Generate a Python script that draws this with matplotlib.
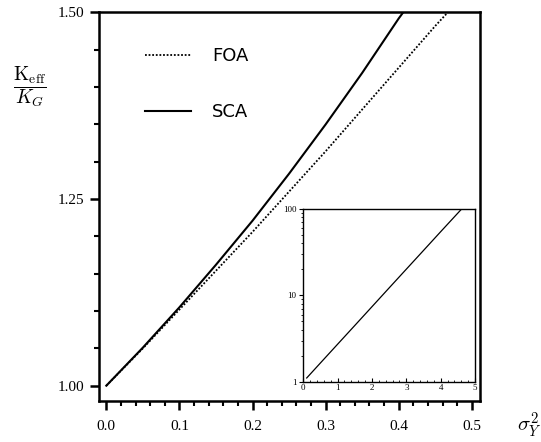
import matplotlib
matplotlib.use("Agg")
import matplotlib.pyplot as plt
from matplotlib.ticker import MultipleLocator, LogLocator, NullFormatter

plt.rcParams["mathtext.fontset"] = "cm"

# values
sigma2 = [0.0, 0.05, 0.10, 0.15, 0.20, 0.25, 0.30, 0.35, 0.40, 0.45, 0.467]
foa = [1.000, 1.050, 1.102, 1.154, 1.206, 1.260, 1.314, 1.370, 1.426, 1.482, 1.500]

sigma2_sca = [0.0, 0.05, 0.10, 0.15, 0.20, 0.25, 0.30, 0.35, 0.40, 0.406]
sca = [1.000, 1.051, 1.105, 1.162, 1.221, 1.284, 1.350, 1.419, 1.492, 1.500]

# inset: SCA on a log scale over a wider range
inset_x = [0.1, 0.5, 1.0, 1.5, 2.0, 2.5, 3.0, 3.5, 4.0, 4.61]
inset_y = [1.105, 1.65, 2.72, 4.48, 7.39, 12.2, 20.1, 33.1, 54.6, 100.0]

labels = ["FOA", "SCA"]
serif = "Liberation Serif"

fig = plt.figure(figsize=(5.41, 4.42), dpi=100)
ax = fig.add_axes([0.183, 0.0928, 0.704, 0.879])

ax.plot(sigma2, foa, color="black", lw=1.3, ls=(0, (1, 1)), label=labels[0])
ax.plot(sigma2_sca, sca, color="black", lw=1.5, label=labels[1])

ax.set_xlim(-0.010, 0.511)
ax.set_ylim(0.9795, 1.50)
ax.xaxis.set_major_locator(MultipleLocator(0.1))
ax.xaxis.set_minor_locator(MultipleLocator(0.02))
ax.yaxis.set_major_locator(MultipleLocator(0.25))
ax.yaxis.set_minor_locator(MultipleLocator(0.05))
ax.xaxis.set_major_formatter(plt.FuncFormatter(lambda v, p: f"{v:.1f}"))
ax.yaxis.set_major_formatter(plt.FuncFormatter(lambda v, p: f"{v:.2f}"))

for s in ax.spines.values():
    s.set_linewidth(1.8)
ax.tick_params(which="major", direction="out", length=6.5, width=1.8, labelsize=11)
ax.tick_params(axis="x", which="major", pad=7.5)
ax.tick_params(axis="y", which="major", pad=4)
ax.tick_params(which="minor", direction="out", length=3.3, width=1.5)
for lab in ax.get_xticklabels() + ax.get_yticklabels():
    lab.set_family(serif)

ax.set_ylabel(r"$\dfrac{\mathrm{K}_{\mathrm{eff}}}{K_G}$", rotation=0, fontsize=14,
              va="center", ha="center")
ax.yaxis.set_label_coords(-0.181, 0.808)
ax.set_xlabel(r"$\sigma_Y^2$", fontsize=15, va="center", ha="center")
ax.xaxis.set_label_coords(1.129, -0.062)

ax.legend(loc="upper left", bbox_to_anchor=(0.121, 0.911), frameon=False, fontsize=13,
          handlelength=2.54, handletextpad=1.17, labelspacing=2.1, borderpad=0,
          borderaxespad=0)

# inset
ins = fig.add_axes([0.5606, 0.1364, 0.3174, 0.3907])
ins.plot(inset_x, inset_y, color="black", lw=0.9)
ins.set_yscale("log")
ins.set_xlim(0, 5)
ins.set_ylim(1, 100)
ins.xaxis.set_major_locator(MultipleLocator(1))
ins.xaxis.set_minor_locator(MultipleLocator(0.2))
ins.yaxis.set_major_locator(LogLocator(base=10))
ins.yaxis.set_minor_locator(LogLocator(base=10, subs=range(2, 10)))
ins.yaxis.set_minor_formatter(NullFormatter())
ins.yaxis.set_major_formatter(plt.FuncFormatter(lambda v, p: f"{v:.0f}"))
for s in ins.spines.values():
    s.set_linewidth(1.0)
ins.tick_params(which="major", length=3, width=0.8, labelsize=6.5, pad=2)
ins.tick_params(which="minor", length=1.8, width=0.6)
ins.tick_params(axis="x", which="both", direction="in")
ins.tick_params(axis="y", which="both", direction="out")
for lab in ins.get_xticklabels() + ins.get_yticklabels():
    lab.set_family(serif)

fig.savefig("out.png", dpi=100)
